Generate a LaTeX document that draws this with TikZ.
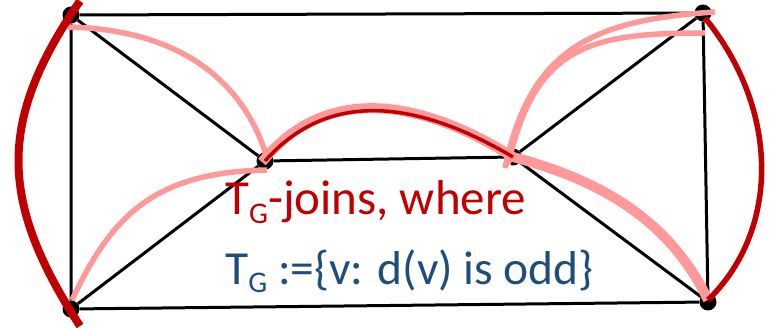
\documentclass[tikz,border=0pt]{standalone}
\usepackage{fontspec}
\setmainfont{Carlito}
\definecolor{tjoinred}{HTML}{C00000}
\definecolor{tjoinpink}{HTML}{FF9999}
\definecolor{tsetblue}{HTML}{1F4E79}
\newcommand{\subG}{{\fontsize{30pt}{30pt}\selectfont\raisebox{-9pt}{G}}}

\begin{document}
\begin{tikzpicture}[x=1pt, y=-1pt,
	vertex/.style={circle, fill=black, inner sep=0pt, minimum size=17pt},
	graphedge/.style={line width=3pt},
	redjoin/.style={tjoinred, line width=5.5pt},
	pinkjoin/.style={tjoinpink, line width=5.5pt},
	tlabel/.style={inner sep=0pt, anchor=base west}]
	\useasboundingbox (0,0) rectangle (770,328);
	\node[vertex] (A) at (71,15) {};
	\node[vertex] (B) at (703,13) {};
	\node[vertex] (C) at (71,309) {};
	\node[vertex] (D) at (708,302) {};
	\node[vertex] (E) at (265,161) {};
	\node[vertex] (F) at (513,157) {};
	\draw[graphedge] (A) -- (B) (A) -- (C) (B) -- (D) (C) -- (D) (E) -- (F)
		(A) -- (E) (C) -- (E) (B) -- (F) (D) -- (F);
	% free ends of the curves
	\coordinate (a1) at (68,27);
	\coordinate (c1) at (72,300);
	\coordinate (e1) at (267,158);
	\coordinate (e2) at (267,170);
	\coordinate (e3) at (262,162);
	\coordinate (f1) at (505,168);
	\coordinate (f2) at (508,165);
	\coordinate (b1) at (715,12);
	\coordinate (b2) at (705,33);
	\coordinate (b3) at (705,18);
	\coordinate (d1) at (708,300);
	\coordinate (lt) at (80,1);
	\coordinate (lb) at (80,326);
	\draw[pinkjoin] (a1) .. controls (200,30) and (250,100) .. (e1);
	\draw[pinkjoin] (c1) .. controls (110,220) and (150,172) .. (e2);
	\draw[pinkjoin] (f1) .. controls (530,50) and (590,20) .. (b1);
	\draw[pinkjoin] (f2) .. controls (535,45) and (590,33) .. (b2);
	\draw[pinkjoin, line width=10pt] (e3) .. controls (330,78) and (430,105) .. (F.center)
		.. controls (600,180) and (670,220) .. (d1);
	\draw[redjoin, line width=8pt] (lt) .. controls (-2,120) and (-2,200) .. (lb);
	\draw[redjoin] (b3) .. controls (780,110) and (780,230) .. (d1);
	\draw[redjoin, line width=3.5pt] (E.center) .. controls (335,82) and (430,108) .. (F.center);
	\node[tlabel, text=tjoinred, font=\fontsize{49pt}{52pt}\selectfont] (joins) at (225,215) {T\subG-joins, where};
	\node[tlabel, text=tsetblue, font=\fontsize{47.5pt}{52pt}\selectfont] (oddset) at (225,284) {T\subG\ :=\{v: d(v) is odd\}};
\end{tikzpicture}
\end{document}
